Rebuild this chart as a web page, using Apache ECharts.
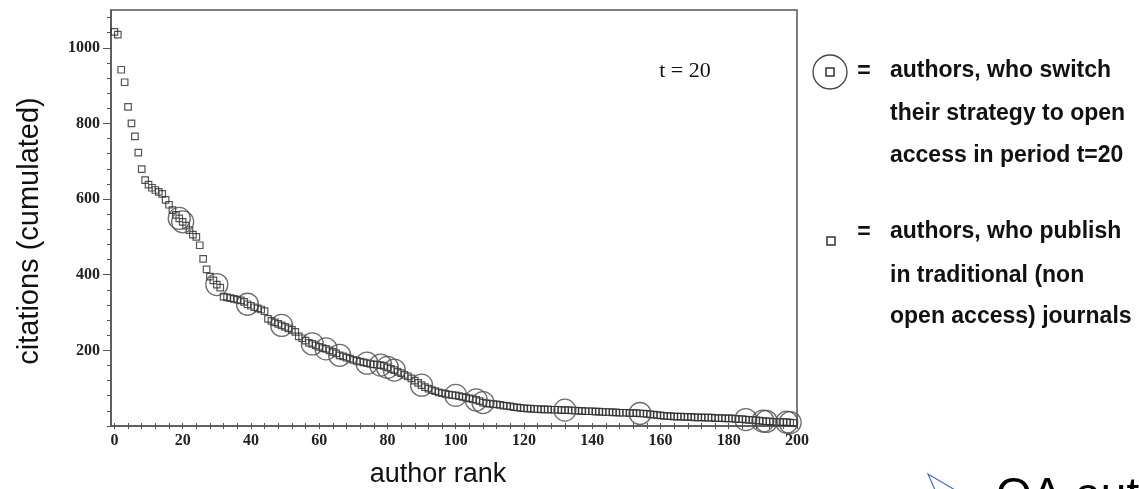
<!DOCTYPE html>
<html>
<head>
<meta charset="utf-8">
<style>
  html, body { margin: 0; padding: 0; background: #fff; }
  #chart { width: 1139px; height: 489px; }
</style>
<script src="https://cdn.jsdelivr.net/npm/echarts@6/dist/echarts.min.js"></script>
</head>
<body>
<div id="chart"></div>
<script>
// Cumulated citations of the 200 authors, ordered by rank (rank 0 = most cited)
const citations = [
  1042, 1035, 942, 909, 844, 800, 766, 723, 679, 650,
  638, 630, 624, 619, 614, 598, 585, 571, 558, 549,
  540, 530, 518, 506, 500, 478, 442, 414, 395, 385,
  374, 366, 342, 340, 338, 336, 334, 332, 328, 322,
  318, 314, 311, 308, 304, 283, 278, 274, 270, 266,
  262, 258, 254, 249, 237, 232, 226, 220, 217, 213,
  209, 206, 204, 200, 196, 192, 187, 184, 181, 178,
  175, 172, 170, 168, 166, 164, 163, 162, 161, 159,
  155, 151, 148, 143, 140, 135, 131, 126, 120, 114,
  108, 103, 99, 95, 92, 89, 87, 85, 83, 82,
  81, 79, 77, 75, 73, 71, 69, 66, 62, 60,
  59, 58, 57, 56, 54, 53, 52, 50, 49, 48,
  47, 46, 46, 45, 45, 44, 44, 44, 43, 43,
  43, 42, 42, 42, 41, 41, 40, 40, 39, 39,
  39, 38, 38, 37, 37, 37, 36, 36, 35, 35,
  35, 34, 34, 34, 33, 33, 32, 31, 30, 29,
  28, 27, 26, 26, 25, 25, 25, 24, 24, 24,
  23, 23, 23, 22, 22, 22, 21, 21, 21, 20,
  20, 20, 19, 18, 18, 17, 16, 16, 15, 14,
  13, 12, 12, 11, 11, 10, 10, 10, 9, 8
];

// Ranks of the authors who switch to open access in period t = 20
const openAccessRanks = [
  19, 20, 30, 39, 49, 58, 62, 66, 74, 78, 80, 82, 90,
  100, 106, 108, 132, 154, 185, 190, 191, 197, 198
];

// Axis labels and tick positions
const rankLabels = [0, 20, 40, 60, 80, 100, 120, 140, 160, 180, 200];
const rankTicks = [];
for (let r = 0; r <= 200; r += 4) rankTicks.push(r);
const citationLabels = [200, 400, 600, 800, 1000];
const citationMinorTicks = [];
for (let c = 0; c <= 1080; c += 40) citationMinorTicks.push(c);

const authorPoints = citations.map((v, i) => [i, v]);
const switcherPoints = openAccessRanks.map(r => [r, citations[r]]);

const serif = '"Liberation Serif", "DejaVu Serif", serif';
const sans = '"Liberation Sans", Arial, sans-serif';
const frameColor = '#555';

const chart = echarts.init(document.getElementById('chart'), null, { renderer: 'canvas' });

const legendLine = (text, y) => ({
  type: 'text', left: 890, top: y - 13,
  style: { text: text, font: 'bold 23px ' + sans, fill: '#111' }
});

const plainNumber = v => String(v);

chart.setOption({
  animation: false,
  backgroundColor: '#fff',
  grid: {
    left: 111, right: 342, top: 10, bottom: 63,
    show: true, borderColor: frameColor, borderWidth: 1.5,
    backgroundColor: 'transparent'
  },
  xAxis: [
    {
      type: 'value', min: -1, max: 200,
      axisLine: { show: true, onZero: false, lineStyle: { color: frameColor, width: 1.5 } },
      axisTick: { show: true, customValues: rankTicks, length: 3, inside: false,
                  lineStyle: { color: frameColor } },
      axisLabel: { customValues: rankLabels, margin: 7, color: '#222', formatter: plainNumber,
                   fontFamily: serif, fontSize: 16, fontWeight: 'bold' },
      splitLine: { show: false }
    },
    {
      type: 'value', min: -1, max: 200, position: 'bottom',
      axisLine: { show: false, onZero: false },
      axisTick: { show: true, customValues: rankTicks, length: 3, inside: true,
                  lineStyle: { color: frameColor } },
      axisLabel: { show: false },
      splitLine: { show: false }
    }
  ],
  yAxis: [
    {
      type: 'value', min: 0, max: 1100,
      axisLine: { show: true, onZero: false, lineStyle: { color: frameColor, width: 1.5 } },
      axisTick: { show: true, customValues: citationLabels, length: 8,
                  lineStyle: { color: frameColor } },
      axisLabel: { customValues: citationLabels, margin: 11, color: '#222', formatter: plainNumber,
                   fontFamily: serif, fontSize: 16, fontWeight: 'bold' },
      splitLine: { show: false }
    },
    {
      type: 'value', min: 0, max: 1100, position: 'left',
      axisLine: { show: false, onZero: false },
      axisTick: { show: true, customValues: citationMinorTicks, length: 4,
                  lineStyle: { color: frameColor } },
      axisLabel: { show: false },
      splitLine: { show: false }
    }
  ],
  series: [
    {
      name: 'traditional journals',
      type: 'scatter',
      xAxisIndex: 0, yAxisIndex: 0,
      data: authorPoints,
      symbol: 'rect',
      symbolSize: 6.5,
      itemStyle: { color: 'rgba(255,255,255,0)', borderColor: '#2a2a2a', borderWidth: 1.2 },
      emphasis: { disabled: true },
      silent: true
    },
    {
      name: 'switch to open access',
      type: 'scatter',
      xAxisIndex: 0, yAxisIndex: 0,
      data: switcherPoints,
      symbol: 'circle',
      symbolSize: 22,
      itemStyle: { color: 'rgba(255,255,255,0)', borderColor: '#4a4a4a', borderWidth: 1.3 },
      emphasis: { disabled: true },
      silent: true
    }
  ],
  graphic: [
    // axis titles
    {
      type: 'text', x: 30, y: 231, rotation: Math.PI / 2,
      style: { text: 'citations (cumulated)', font: '29px ' + sans, fill: '#111',
               textAlign: 'center', textVerticalAlign: 'middle' }
    },
    {
      type: 'text', x: 438, y: 475,
      style: { text: 'author rank', font: '27px ' + sans, fill: '#111',
               textAlign: 'center', textVerticalAlign: 'middle' }
    },
    // period annotation
    {
      type: 'text', x: 685, y: 71,
      style: { text: 't = 20', font: '22px ' + serif, fill: '#111',
               textAlign: 'center', textVerticalAlign: 'middle' }
    },
    // legend: open access switchers
    {
      type: 'circle', shape: { cx: 830, cy: 72, r: 17 },
      style: { fill: 'none', stroke: '#444', lineWidth: 1.3 }
    },
    {
      type: 'rect', shape: { x: 826, y: 68, width: 8, height: 8 },
      style: { fill: 'none', stroke: '#333', lineWidth: 1.5 }
    },
    {
      type: 'text', x: 864, y: 72,
      style: { text: '=', font: 'bold 23px ' + sans, fill: '#111',
               textAlign: 'center', textVerticalAlign: 'middle' }
    },
    legendLine('authors, who switch', 72),
    legendLine('their strategy to open', 115),
    legendLine('access in period t=20', 157),
    // legend: traditional journals
    {
      type: 'rect', shape: { x: 827, y: 237, width: 8, height: 8 },
      style: { fill: 'none', stroke: '#333', lineWidth: 1.5 }
    },
    {
      type: 'text', x: 864, y: 233,
      style: { text: '=', font: 'bold 23px ' + sans, fill: '#111',
               textAlign: 'center', textVerticalAlign: 'middle' }
    },
    legendLine('authors, who publish', 233),
    legendLine('in traditional (non', 277),
    legendLine('open access) journals', 318),
    // slide bullet and heading below the figure
    {
      type: 'polygon', shape: { points: [[928, 474], [972, 500], [950, 524]] },
      style: { fill: 'none', stroke: '#4472C4', lineWidth: 1.2 }
    },
    {
      type: 'text', x: 996, y: 474,
      style: { text: 'OA authors', font: '46px ' + sans, fill: '#000',
               textAlign: 'left', textVerticalAlign: 'top' }
    }
  ]
});
</script>
</body>
</html>
